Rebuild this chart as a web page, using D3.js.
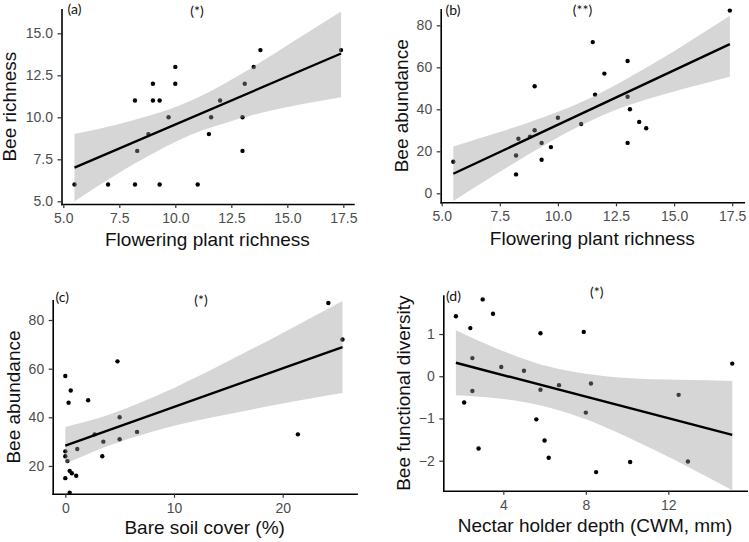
<!DOCTYPE html>
<html><head><meta charset="utf-8">
<script src="https://cdn.jsdelivr.net/npm/d3@7"></script>
<style>body{margin:0;background:#fff} svg{display:block;background:#fff}</style>
</head><body>
<svg id="c" width="749" height="542"></svg>
<script>
// ---------- data ----------
// (a) Flowering plant richness vs Bee richness
const aX = [5.5,7,8.2,9.3,11,8.2,9,9,9.3,10,10,9.7,8.8,8.3,11.5,11.6,12,13,13,13.1,13.5,13.8,17.4];
const aY = [6,6,6,6,6,11,12,11,11,13,12,10,9,8,9,10,11,10,8,12,13,14,14];
const aFitX = [5.5,17.4], aFitY = [7.0,13.8];
const aBandX  = [5.5,7.5,9.5,10.5,11.5,13.5,15.5,17.4];
const aBandLo = [5.0,6.7,8.2,8.85,9.35,10.15,10.75,11.2];
const aBandHi = [9.0,9.6,10.37,10.88,11.5,13.03,14.7,16.3];
// (b) Flowering plant richness vs Bee abundance
const bX = [5.5,8.2,8.2,8.3,8.8,9,9,9.3,9.3,9.7,10,11,11.5,11.6,12,13,13,13,13.1,13.5,13.8,17.4];
const bY = [15,9,18,26,27,30,51,24,16,22,36,33,72,47,57,63,46,24,40,34,31,87];
const bFitX = [5.5,17.4], bFitY = [9.3,71.0];
const bBandX  = [5.5,7.5,9.5,11.3,13,15,17.4];
const bBandLo = [-3.7,10.2,23.5,33.9,41.8,48.5,55.5];
const bBandHi = [22.3,29.2,36.7,44.9,54.8,67.7,84.5];
// (c) Bare soil cover vs Bee abundance
const cX = [0,0,0,0,0.2,0.3,0.5,0.4,0.6,1.0,0.4,1.1,2.1,2.7,3.4,3.5,4.8,5.0,5.0,6.6,21.4,24.2,25.5];
const cY = [57,26,24,15,22,46,51,18,17,16,9,27,47,33,24,30,63,40,31,34,33,87,72];
const cFitX = [0,25.5], cFitY = [28.4,68.9];
const cBandX  = [0,2.5,5,10,15,20,25.5];
const cBandLo = [20.9,25.7,29.9,36.5,41.3,45.7,50.0];
const cBandHi = [36.0,39.0,42.7,52.1,63.1,74.7,87.8];
// (d) Nectar holder depth vs Bee functional diversity
const dX = [1.7,3.0,3.5,2.4,2.5,2.5,2.1,2.8,3.9,5.0,5.8,5.6,5.8,6.0,6.2,6.7,7.9,8.0,8.25,8.5,10.15,12.5,12.95,15.1];
const dY = [1.42,1.82,1.48,1.14,0.43,-0.35,-0.62,-1.71,0.22,0.13,1.02,-1.02,-0.32,-1.52,-1.93,-0.21,1.05,-0.86,-0.17,-2.27,-2.03,-0.44,-2.02,0.30];
const dFitX = [1.7,15.1], dFitY = [0.32,-1.39];
const dBandX  = [1.7,3,4.5,6.2,8,10,12.5,15.1];
const dBandLo = [-0.45,-0.49,-0.57,-0.74,-1.02,-1.44,-2.03,-2.70];
const dBandHi = [1.09,0.80,0.50,0.23,0.06,-0.04,-0.085,-0.11];
// tick values
const abXTicks = [5,7.5,10,12.5,15,17.5];
const aYTicks = [5,7.5,10,12.5,15];
const bYTicks = [0,20,40,60,80];
const cXTicks = [0,10,20];
const cYTicks = [20,40,60,80];
const dXTicks = [4,8,12];
const dYTicks = [-2,-1,0,1];
// texts
const xTitles = ["Flowering plant richness","Flowering plant richness","Bare soil cover (%)","Nectar holder depth (CWM, mm)"];
const yTitles = ["Bee richness","Bee abundance","Bee abundance","Bee functional diversity"];
const panelTags = ["(a)","(b)","(c)","(d)"];
const sigTags = ["(*)","(**)","(*)","(*)"];

// ---------- drawing ----------
const svg = d3.select("#c");
const TICKFONT = "'Liberation Sans', Arial, Helvetica, sans-serif";
const TAGFONT = "Lato, 'Open Sans', sans-serif";

function panel(o){
  const x = d3.scaleLinear().domain(o.xd).range(o.xr);
  const y = d3.scaleLinear().domain(o.yd).range(o.yr);
  const g = svg.append("g");

  g.selectAll("circle").data(o.px.map((v,i)=>[v,o.py[i]])).join("circle")
    .attr("cx",d=>x(d[0])).attr("cy",d=>y(d[1])).attr("r",2.2).attr("fill","#000");

  const band = o.bx.map((v,i)=>({x:v,lo:o.blo[i],hi:o.bhi[i]}));
  g.append("path").datum(band)
    .attr("d", d3.area().x(d=>x(d.x)).y0(d=>y(d.lo)).y1(d=>y(d.hi)).curve(d3.curveNatural))
    .attr("fill","#999999").attr("fill-opacity",0.4);

  g.append("path").datum(o.fx.map((v,i)=>[v,o.fy[i]]))
    .attr("d", d3.line().x(d=>x(d[0])).y(d=>y(d[1])))
    .attr("fill","none").attr("stroke","#000").attr("stroke-width",2.4);

  const ax = g.append("g").attr("transform",`translate(0,${o.yr[0]})`)
    .call(d3.axisBottom(x).tickValues(o.xt).tickFormat(o.xf).tickSizeInner(4).tickSizeOuter(0).tickPadding(5));
  const ay = g.append("g").attr("transform",`translate(${o.xr[0]},0)`)
    .call(d3.axisLeft(y).tickValues(o.yt).tickFormat(o.yf).tickSizeInner(4).tickSizeOuter(0).tickPadding(4.5));
  [ax,ay].forEach(a=>{
    a.select(".domain").attr("stroke","#000").attr("stroke-width",1.6).attr("stroke-linecap","square");
    a.selectAll(".tick line").attr("stroke","#333").attr("stroke-width",1.2);
    a.selectAll(".tick text").attr("font-size",14).attr("font-family",TICKFONT).attr("fill","#4D4D4D");
  });

  g.append("text").attr("x",(o.xr[0]+o.xr[1])/2).attr("y",o.xtY)
    .attr("text-anchor","middle").attr("font-family",TICKFONT).attr("font-size",19).attr("fill","#111")
    .text(o.xtitle);
  g.append("text").attr("transform",`translate(${o.ytX},${(o.yr[0]+o.yr[1])/2}) rotate(-90)`)
    .attr("text-anchor","middle").attr("font-family",TICKFONT).attr("font-size",19).attr("fill","#111")
    .text(o.ytitle);

  g.append("text").attr("x",o.tag[0]).attr("y",o.tag[1]).attr("font-family",TAGFONT).attr("font-size",14).attr("fill","#111").text(o.tagText);
  g.append("text").attr("x",o.sig[0]).attr("y",o.sig[1]).attr("text-anchor","middle").attr("font-family",TAGFONT).attr("font-size",14).attr("fill","#111").text(o.sigText);
}

const f1 = d3.format(".1f"), f0 = d3.format("d");

panel({xd:[4.92,17.95], xr:[61.5,353.4], yd:[4.84,16.43], yr:[204,9.3],
  px:aX, py:aY, bx:aBandX, blo:aBandLo, bhi:aBandHi, fx:aFitX, fy:aFitY,
  xt:abXTicks, xf:f1, yt:aYTicks, yf:f1, xtitle:xTitles[0], ytitle:yTitles[0],
  xtY:246, ytX:15.5, tag:[67.5,14], tagText:panelTags[0], sig:[197,16], sigText:sigTags[0]});

panel({xd:[4.957,18.0], xr:[440.7,743.8], yd:[-4.29,87.62], yr:[202.3,9.3],
  px:bX, py:bY, bx:bBandX, blo:bBandLo, bhi:bBandHi, fx:bFitX, fy:bFitY,
  xt:abXTicks, xf:f1, yt:bYTicks, yf:f0, xtitle:xTitles[1], ytitle:yTitles[1],
  xtY:245, ytX:408, tag:[445.5,14.5], tagText:panelTags[1], sig:[582.5,15], sigText:sigTags[1]});

panel({xd:[-1.16,26.8], xr:[52.7,356.6], yd:[8.6,88.1], yr:[493.7,300.3],
  px:cX, py:cY, bx:cBandX, blo:cBandLo, bhi:cBandHi, fx:cFitX, fy:cFitY,
  xt:cXTicks, xf:f0, yt:cYTicks, yf:f0, xtitle:xTitles[2], ytitle:yTitles[2],
  xtY:533.5, ytX:20, tag:[55.5,302], tagText:panelTags[2], sig:[201,304.5], sigText:sigTags[2]});

panel({xd:[1.09,15.8], xr:[443.3,746.7], yd:[-2.71,1.91], yr:[490.7,295.6],
  px:dX, py:dY, bx:dBandX, blo:dBandLo, bhi:dBandHi, fx:dFitX, fy:dFitY,
  xt:dXTicks, xf:f0, yt:dYTicks, yf:f0, xtitle:xTitles[3], ytitle:yTitles[3],
  xtY:531.5, ytX:410, tag:[446,300.5], tagText:panelTags[3], sig:[596.7,296.5], sigText:sigTags[3]});
</script>
</body></html>
